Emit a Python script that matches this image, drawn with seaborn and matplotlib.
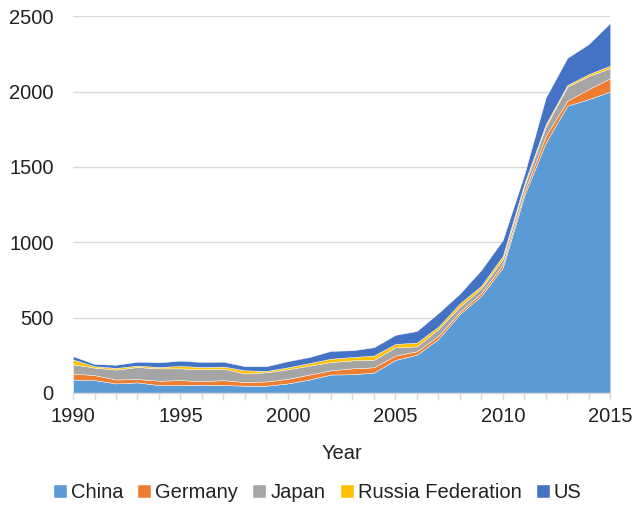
import matplotlib
matplotlib.use("Agg")
import matplotlib.pyplot as plt
import seaborn as sns

# Datos (areas apiladas)
years = list(range(1990, 2016))
china = [89, 85, 63, 70, 52, 52, 55, 52, 48, 48, 63, 89, 122, 124, 135, 219, 254, 358, 524, 645, 833, 1310, 1662, 1906, 1950, 2000]
germany = [40, 33, 26, 22, 29, 33, 23, 33, 24, 28, 31, 33, 28, 39, 35, 29, 22, 22, 15, 18, 22, 25, 44, 33, 67, 88]
japan = [61, 50, 66, 80, 82, 78, 79, 76, 57, 61, 63, 59, 55, 53, 50, 55, 33, 44, 33, 33, 33, 40, 62, 93, 86, 68]
russia = [32, 9, 11, 9, 9, 16, 15, 14, 21, 9, 13, 17, 22, 22, 28, 22, 25, 16, 22, 16, 22, 15, 16, 11, 13, 16]
us = [22, 15, 21, 26, 31, 35, 33, 32, 27, 31, 41, 40, 52, 45, 55, 60, 77, 90, 65, 105, 105, 60, 177, 180, 200, 284]
series_names = ["China", "Germany", "Japan", "Russia Federation", "US"]
colores = ["#5B9BD5", "#ED7D31", "#A5A5A5", "#FFC000", "#4472C4"]

sns.set_theme(style="white")
plt.rcParams['font.family'] = ['Liberation Sans', 'DejaVu Sans']
plt.rcParams['font.size'] = 14.5

fig = plt.figure(figsize=(6.35, 5.07), dpi=100)
ax = fig.add_axes([0.115, 0.225, 0.846, 0.743])

ax.stackplot(years, china, germany, japan, russia, us,
             labels=series_names, colors=colores,
             edgecolor="white", linewidth=0.3)

ax.set_xlim(1990, 2015)
ax.set_ylim(0, 2500)
ax.set_yticks(range(0, 2501, 500))
ax.set_xticks(years)
ax.set_xticklabels([str(y) if y % 5 == 0 else "" for y in years])
ax.yaxis.grid(True, color="#d9d9d9", linewidth=1)
ax.set_axisbelow(True)

for lado in ["left", "right", "top"]:
    ax.spines[lado].set_visible(False)
ax.spines["bottom"].set_color("#d9d9d9")
ax.spines["bottom"].set_linewidth(1)

ax.tick_params(axis="y", length=0, pad=14, labelsize=14.5, colors="#222222")
ax.tick_params(axis="x", length=5, width=1, color="#d9d9d9", pad=5,
               labelsize=14.5, labelcolor="#222222", bottom=True)
ax.set_xlabel("Year", fontsize=14.5, color="#222222", labelpad=13)

fig.legend(loc="lower center", bbox_to_anchor=(0.5, -0.007), ncol=5, frameon=False,
           borderaxespad=0, handlelength=0.65, handleheight=0.65, handletextpad=0.2,
           columnspacing=0.75, fontsize=14.5, labelcolor="#222222")

fig.savefig("out.png", dpi=100)
